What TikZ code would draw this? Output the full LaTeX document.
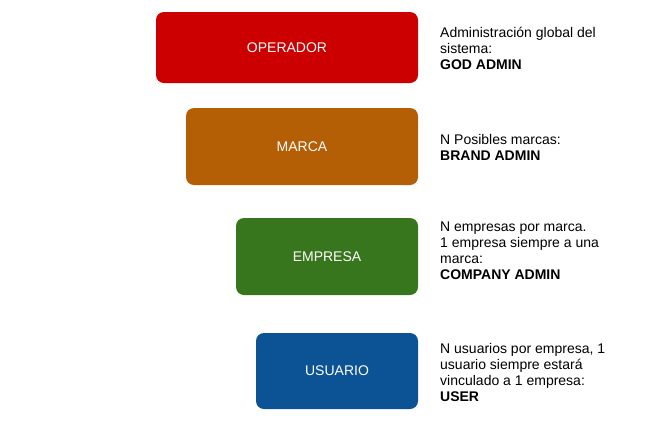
\documentclass[tikz,border=0pt]{standalone}
\usepackage{fontspec}
\setmainfont{Liberation Sans}
\usepackage{tikz}
\usepackage{xcolor}
\definecolor{opred}{HTML}{CC0000}
\definecolor{brandorange}{HTML}{B45F06}
\definecolor{compgreen}{HTML}{38761D}
\definecolor{userblue}{HTML}{0B5394}
\newcommand{\txtsize}{\fontsize{14}{16}\selectfont}

\begin{document}
\begin{tikzpicture}[
  x=1pt, y=-1pt,
  tier/.style={rounded corners=8pt, text=white, font=\txtsize, inner sep=0pt},
  role/.style={anchor=west, align=left, font=\txtsize, inner sep=0pt, text=black}
]
\useasboundingbox (0,0) rectangle (658,429);

% Left column: hierarchy levels
\node[tier, fill=opred, minimum width=262pt, minimum height=71pt] (op) at (287, 47.5) {OPERADOR};
\node[tier, fill=brandorange, minimum width=232pt, minimum height=77pt] (marca) at (302, 146.5) {MARCA};
\node[tier, fill=compgreen, minimum width=182pt, minimum height=77pt] (empresa) at (327, 256.5) {EMPRESA};
\node[tier, fill=userblue, minimum width=162pt, minimum height=76pt] (usuario) at (337, 371) {USUARIO};

% Right column: descriptions
\node[role] (op-txt) at (440, 48) {Administración global del\\sistema:\\\textbf{GOD ADMIN}};
\node[role] (marca-txt) at (440, 147) {N Posibles marcas:\\\textbf{BRAND ADMIN}};
\node[role] (empresa-txt) at (440, 251) {N empresas por marca.\\1 empresa siempre a una\\marca:\\\textbf{COMPANY ADMIN}};
\node[role] (usuario-txt) at (440, 372) {N usuarios por empresa, 1\\usuario siempre estará\\vinculado a 1 empresa:\\\textbf{USER}};
\end{tikzpicture}
\end{document}
